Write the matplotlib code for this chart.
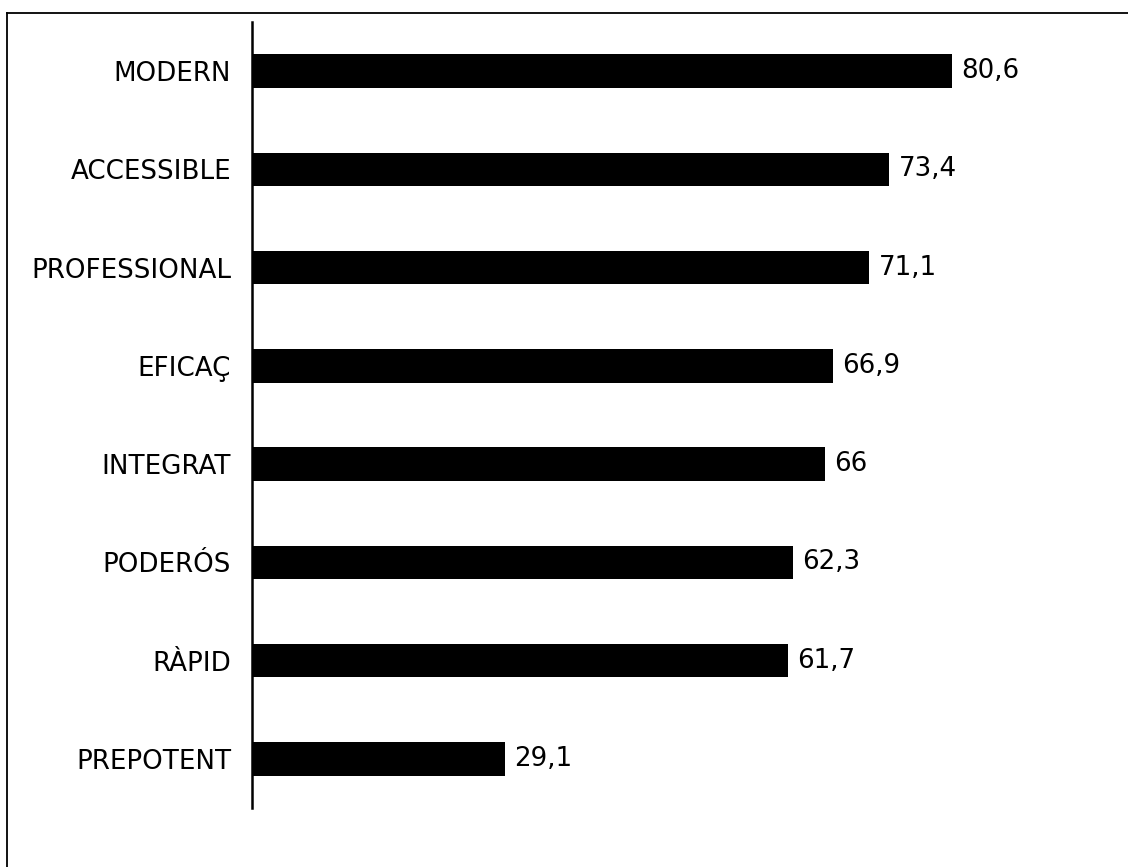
import matplotlib.pyplot as plt
from matplotlib.lines import Line2D

categories = ['MODERN', 'ACCESSIBLE', 'PROFESSIONAL', 'EFICAÇ', 'INTEGRAT',
              'PODERÓS', 'RÀPID', 'PREPOTENT']
values = [80.6, 73.4, 71.1, 66.9, 66.0, 62.3, 61.7, 29.1]
value_labels = ['80,6', '73,4', '71,1', '66,9', '66', '62,3', '61,7', '29,1']

fig = plt.figure(figsize=(11.28, 8.67), dpi=100)
ax = fig.add_axes([252 / 1128, 1 - 808 / 867, 1 - 252 / 1128, (808 - 22) / 867])

pos = list(range(len(categories)))
ax.barh(pos, values, height=0.34, color='black')
for p, v, lab in zip(pos, values, value_labels):
    ax.text(v + 1.1, p, lab, va='center', ha='left', fontsize=18.8)

ax.set_ylim(7.5, -0.5)
ax.set_xlim(0, 100.9)
ax.set_yticks(pos)
ax.set_yticklabels(categories, fontsize=18.8)
ax.tick_params(axis='y', length=0, pad=15)
ax.set_xticks([])
for s in ['top', 'right', 'bottom']:
    ax.spines[s].set_visible(False)
ax.spines['left'].set_linewidth(1.8)

# outer frame (only top and left edges visible in the crop)
fig.add_artist(Line2D([7 / 1128, 7 / 1128], [0, 1 - 13 / 867], transform=fig.transFigure,
                      color='black', linewidth=1.3))
fig.add_artist(Line2D([7 / 1128, 1], [1 - 13 / 867, 1 - 13 / 867], transform=fig.transFigure,
                      color='black', linewidth=1.3))

fig.savefig('out.png', dpi=100)
